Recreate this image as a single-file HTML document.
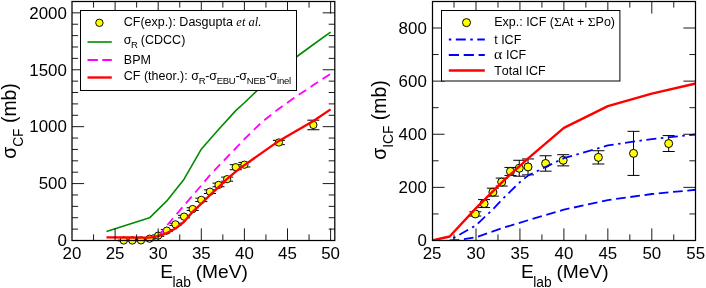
<!DOCTYPE html>
<html><head><meta charset="utf-8"><title>plot</title>
<style>
html,body{margin:0;padding:0;background:#fff;}
body{width:706px;height:288px;position:relative;overflow:hidden;font-family:"Liberation Sans",sans-serif;color:#000;}
.t{position:absolute;white-space:nowrap;line-height:1;font-kerning:none;font-family:"Liberation Sans",sans-serif;}
.sub{position:relative;}
.sy{font-family:"Liberation Serif",serif;font-size:13.4px;line-height:0;}
#txt{position:absolute;left:0;top:0;width:706px;height:288px;will-change:transform;}
.rot{transform-origin:0 0;transform:rotate(-90deg) scale(1,1.04) translate(-50%,-84.65%);}
</style></head><body>
<svg width="706" height="288" viewBox="0 0 706 288" style="position:absolute;left:0;top:0">
<rect width="706" height="288" fill="#fff"/>
<defs><clipPath id="cl"><rect x="72.00" y="1.50" width="262.80" height="239.00"/></clipPath>
<clipPath id="cr"><rect x="432.50" y="1.50" width="263.00" height="239.00"/></clipPath></defs>
<g>
<path d="M123.72 240.16 V240.84 M117.72 240.16 h12.00 M117.72 240.84 h12.00 M132.34 240.16 V240.84 M126.34 240.16 h12.00 M126.34 240.84 h12.00 M140.96 240.04 V240.73 M134.96 240.04 h12.00 M134.96 240.73 h12.00 M149.58 238.22 V239.13 M143.58 238.22 h12.00 M143.58 239.13 h12.00 M158.20 234.92 V236.29 M152.20 234.92 h12.00 M152.20 236.29 h12.00 M166.82 229.57 V231.62 M160.82 229.57 h12.00 M160.82 231.62 h12.00 M175.44 223.20 V225.47 M169.44 223.20 h12.00 M169.44 225.47 h12.00 M184.06 215.34 V217.85 M178.06 215.34 h12.00 M178.06 217.85 h12.00 M192.68 207.72 V210.45 M186.68 207.72 h12.00 M186.68 210.45 h12.00 M201.30 198.16 V201.57 M195.30 198.16 h12.00 M195.30 201.57 h12.00 M209.92 189.85 V193.49 M203.92 189.85 h12.00 M203.92 193.49 h12.00 M218.54 183.13 V186.77 M212.54 183.13 h12.00 M212.54 186.77 h12.00 M227.16 177.10 V181.19 M221.16 177.10 h12.00 M221.16 181.19 h12.00 M235.78 164.69 V169.70 M229.78 164.69 h12.00 M229.78 169.70 h12.00 M244.40 162.41 V166.97 M238.40 162.41 h12.00 M238.40 166.97 h12.00 M278.88 140.33 V144.66 M272.88 140.33 h12.00 M272.88 144.66 h12.00 M313.36 120.18 V129.74 M307.36 120.18 h12.00 M307.36 129.74 h12.00" stroke="#000" stroke-width="1" fill="none"/>
<circle cx="123.72" cy="240.50" r="3.65" fill="#ffff00" stroke="#000" stroke-width="0.95"/>
<circle cx="132.34" cy="240.50" r="3.65" fill="#ffff00" stroke="#000" stroke-width="0.95"/>
<circle cx="140.96" cy="240.39" r="3.65" fill="#ffff00" stroke="#000" stroke-width="0.95"/>
<circle cx="149.58" cy="238.68" r="3.65" fill="#ffff00" stroke="#000" stroke-width="0.95"/>
<circle cx="158.20" cy="235.61" r="3.65" fill="#ffff00" stroke="#000" stroke-width="0.95"/>
<circle cx="166.82" cy="230.60" r="3.65" fill="#ffff00" stroke="#000" stroke-width="0.95"/>
<circle cx="175.44" cy="224.34" r="3.65" fill="#ffff00" stroke="#000" stroke-width="0.95"/>
<circle cx="184.06" cy="216.60" r="3.65" fill="#ffff00" stroke="#000" stroke-width="0.95"/>
<circle cx="192.68" cy="209.08" r="3.65" fill="#ffff00" stroke="#000" stroke-width="0.95"/>
<circle cx="201.30" cy="199.86" r="3.65" fill="#ffff00" stroke="#000" stroke-width="0.95"/>
<circle cx="209.92" cy="191.67" r="3.65" fill="#ffff00" stroke="#000" stroke-width="0.95"/>
<circle cx="218.54" cy="184.95" r="3.65" fill="#ffff00" stroke="#000" stroke-width="0.95"/>
<circle cx="227.16" cy="179.15" r="3.65" fill="#ffff00" stroke="#000" stroke-width="0.95"/>
<circle cx="235.78" cy="167.19" r="3.65" fill="#ffff00" stroke="#000" stroke-width="0.95"/>
<circle cx="244.40" cy="164.69" r="3.65" fill="#ffff00" stroke="#000" stroke-width="0.95"/>
<circle cx="278.88" cy="142.49" r="3.65" fill="#ffff00" stroke="#000" stroke-width="0.95"/>
<circle cx="313.36" cy="124.96" r="3.65" fill="#ffff00" stroke="#000" stroke-width="0.95"/>
</g>
<g clip-path="url(#cl)" fill="none" stroke-linejoin="round">
<path d="M106.48 231.51 L149.58 217.85 L166.82 200.89 L184.06 179.15 L201.30 149.21 L218.54 129.52 L235.78 110.62 L244.40 102.77 L278.88 69.75 L313.36 44.48 L330.60 32.19" stroke="#008b00" stroke-width="1.6"/>
<path d="M155.61 240.50 L158.20 236.97 L166.82 225.59 L175.44 215.57 L184.06 205.44 L192.68 195.42 L201.30 185.41 L209.92 175.16 L227.16 157.06 L244.40 139.19 L261.64 122.34 L278.88 108.68 L296.12 96.51 L313.36 85.12 L330.60 73.74" stroke="#ff00ff" stroke-width="1.8" stroke-dasharray="8.9 5.386" stroke-dashoffset="-5.14"/>
<path d="M106.48 237.43 L132.34 237.54 L145.27 237.65 L149.58 237.54 L158.20 236.17 L166.82 232.99 L175.44 228.55 L184.06 221.72 L192.68 211.81 L201.30 203.73 L209.92 195.20 L218.54 187.23 L227.16 178.92 L235.78 171.63 L244.40 165.14 L278.88 140.90 L313.36 120.98 L330.60 109.37" stroke="#ff0000" stroke-width="2.35"/>
</g>
<path d="M115.10 240.50 v-12.10 M115.10 1.50 v12.10 M158.20 240.50 v-12.10 M158.20 1.50 v12.10 M201.30 240.50 v-12.10 M201.30 1.50 v12.10 M244.40 240.50 v-12.10 M244.40 1.50 v12.10 M287.50 240.50 v-12.10 M287.50 1.50 v12.10 M330.60 240.50 v-12.10 M330.60 1.50 v12.10 M93.55 240.50 v-6.10 M93.55 1.50 v6.10 M136.65 240.50 v-6.10 M136.65 1.50 v6.10 M179.75 240.50 v-6.10 M179.75 1.50 v6.10 M222.85 240.50 v-6.10 M222.85 1.50 v6.10 M265.95 240.50 v-6.10 M265.95 1.50 v6.10 M309.05 240.50 v-6.10 M309.05 1.50 v6.10 M72.00 183.59 h12.10 M334.80 183.59 h-12.10 M72.00 126.67 h12.10 M334.80 126.67 h-12.10 M72.00 69.75 h12.10 M334.80 69.75 h-12.10 M72.00 12.84 h12.10 M334.80 12.84 h-12.10 M72.00 229.12 h6.10 M334.80 229.12 h-6.10 M72.00 217.73 h6.10 M334.80 217.73 h-6.10 M72.00 206.35 h6.10 M334.80 206.35 h-6.10 M72.00 194.97 h6.10 M334.80 194.97 h-6.10 M72.00 172.20 h6.10 M334.80 172.20 h-6.10 M72.00 160.82 h6.10 M334.80 160.82 h-6.10 M72.00 149.44 h6.10 M334.80 149.44 h-6.10 M72.00 138.05 h6.10 M334.80 138.05 h-6.10 M72.00 115.29 h6.10 M334.80 115.29 h-6.10 M72.00 103.90 h6.10 M334.80 103.90 h-6.10 M72.00 92.52 h6.10 M334.80 92.52 h-6.10 M72.00 81.14 h6.10 M334.80 81.14 h-6.10 M72.00 58.37 h6.10 M334.80 58.37 h-6.10 M72.00 46.99 h6.10 M334.80 46.99 h-6.10 M72.00 35.61 h6.10 M334.80 35.61 h-6.10 M72.00 24.22 h6.10 M334.80 24.22 h-6.10" stroke="#000" stroke-width="0.9" fill="none"/>
<rect x="72.00" y="1.50" width="262.80" height="239.00" fill="none" stroke="#000" stroke-width="1.25"/>
<rect x="80.5" y="10.5" width="216" height="80" fill="#fff" stroke="#000" stroke-width="1"/>
<circle cx="99.4" cy="22.8" r="3.7" fill="#ffff00" stroke="#000" stroke-width="0.95"/>
<path d="M87.5 42 H111.8" stroke="#008b00" stroke-width="1.6"/>
<path d="M87.5 60 H111.8" stroke="#ff00ff" stroke-width="1.9" stroke-dasharray="10.4 4.4"/>
<path d="M87.5 77.5 H111.8" stroke="#ff0000" stroke-width="2.35"/>
<g>
<path d="M475.30 211.81 V216.06 M469.30 211.81 h12.00 M469.30 216.06 h12.00 M484.09 199.59 V207.56 M478.09 199.59 h12.00 M478.09 207.56 h12.00 M492.88 188.17 V196.14 M486.88 188.17 h12.00 M486.88 196.14 h12.00 M501.67 178.08 V186.05 M495.67 178.08 h12.00 M495.67 186.05 h12.00 M510.46 167.45 V175.42 M504.46 167.45 h12.00 M504.46 175.42 h12.00 M519.25 160.28 V176.22 M513.25 160.28 h12.00 M513.25 176.22 h12.00 M528.04 158.95 V174.89 M522.04 158.95 h12.00 M522.04 174.89 h12.00 M545.62 155.76 V171.17 M539.62 155.76 h12.00 M539.62 171.17 h12.00 M563.20 154.70 V165.86 M557.20 154.70 h12.00 M557.20 165.86 h12.00 M598.36 150.72 V164.00 M592.36 150.72 h12.00 M592.36 164.00 h12.00 M633.52 131.33 V175.42 M627.52 131.33 h12.00 M627.52 175.42 h12.00 M668.68 135.58 V151.51 M662.68 135.58 h12.00 M662.68 151.51 h12.00" stroke="#000" stroke-width="1" fill="none"/>
<circle cx="475.30" cy="213.94" r="4.00" fill="#ffff00" stroke="#000" stroke-width="1.00"/>
<circle cx="484.09" cy="203.58" r="4.00" fill="#ffff00" stroke="#000" stroke-width="1.00"/>
<circle cx="492.88" cy="192.16" r="4.00" fill="#ffff00" stroke="#000" stroke-width="1.00"/>
<circle cx="501.67" cy="182.06" r="4.00" fill="#ffff00" stroke="#000" stroke-width="1.00"/>
<circle cx="510.46" cy="171.44" r="4.00" fill="#ffff00" stroke="#000" stroke-width="1.00"/>
<circle cx="519.25" cy="168.25" r="4.00" fill="#ffff00" stroke="#000" stroke-width="1.00"/>
<circle cx="528.04" cy="166.92" r="4.00" fill="#ffff00" stroke="#000" stroke-width="1.00"/>
<circle cx="545.62" cy="163.47" r="4.00" fill="#ffff00" stroke="#000" stroke-width="1.00"/>
<circle cx="563.20" cy="160.28" r="4.00" fill="#ffff00" stroke="#000" stroke-width="1.00"/>
<circle cx="598.36" cy="157.36" r="4.00" fill="#ffff00" stroke="#000" stroke-width="1.00"/>
<circle cx="633.52" cy="153.37" r="4.00" fill="#ffff00" stroke="#000" stroke-width="1.00"/>
<circle cx="668.68" cy="143.55" r="4.00" fill="#ffff00" stroke="#000" stroke-width="1.00"/>
</g>
<g clip-path="url(#cr)" fill="none" stroke-linejoin="round">
<path d="M449.63 240.23 L476.00 225.36 L493.58 208.62 L502.37 199.33 L511.16 190.56 L519.95 182.06 L528.74 175.16 L546.32 166.65 L563.90 158.15 L607.85 145.40 L651.80 139.03 L695.75 134.51" stroke="#0000ff" stroke-width="1.8" stroke-dasharray="2.5 4.5 10.07 4.5" stroke-dashoffset="-4.2"/>
<path d="M449.63 240.50 L458.42 239.97 L476.00 237.31 L502.37 228.02 L528.74 220.05 L563.90 209.69 L607.85 200.12 L651.80 194.01 L695.75 189.76" stroke="#0000ff" stroke-width="1.8" stroke-dasharray="9.7 4.64"/>
<path d="M432.05 240.50 L449.63 236.52 L476.00 208.09 L502.37 181.80 L528.74 157.89 L563.90 127.87 L607.85 106.09 L651.80 93.61 L695.75 83.51" stroke="#ff0000" stroke-width="2.35"/>
</g>
<path d="M476.00 240.50 v-12.10 M476.00 1.50 v12.10 M519.95 240.50 v-12.10 M519.95 1.50 v12.10 M563.90 240.50 v-12.10 M563.90 1.50 v12.10 M607.85 240.50 v-12.10 M607.85 1.50 v12.10 M651.80 240.50 v-12.10 M651.80 1.50 v12.10 M454.03 240.50 v-6.10 M454.03 1.50 v6.10 M497.98 240.50 v-6.10 M497.98 1.50 v6.10 M541.92 240.50 v-6.10 M541.92 1.50 v6.10 M585.88 240.50 v-6.10 M585.88 1.50 v6.10 M629.83 240.50 v-6.10 M629.83 1.50 v6.10 M673.77 240.50 v-6.10 M673.77 1.50 v6.10 M432.50 187.37 h12.10 M695.50 187.37 h-12.10 M432.50 134.25 h12.10 M695.50 134.25 h-12.10 M432.50 81.12 h12.10 M695.50 81.12 h-12.10 M432.50 28.00 h12.10 M695.50 28.00 h-12.10 M432.50 213.94 h6.10 M695.50 213.94 h-6.10 M432.50 160.81 h6.10 M695.50 160.81 h-6.10 M432.50 107.69 h6.10 M695.50 107.69 h-6.10 M432.50 54.56 h6.10 M695.50 54.56 h-6.10" stroke="#000" stroke-width="0.9" fill="none"/>
<rect x="432.50" y="1.50" width="263.00" height="239.00" fill="none" stroke="#000" stroke-width="1.25"/>
<rect x="441.5" y="10.5" width="178.4" height="70.5" fill="#fff" stroke="#000" stroke-width="1"/>
<circle cx="466.5" cy="22.6" r="4.0" fill="#ffff00" stroke="#000" stroke-width="1"/>
<path d="M448.8 39.5 H484.8" stroke="#0000ff" stroke-width="1.8" stroke-dasharray="2.5 4.5 10 4.5"/>
<path d="M448.8 55 H484.8" stroke="#0000ff" stroke-width="1.8" stroke-dasharray="10.2 4.7"/>
<path d="M448.8 70.5 H484.8" stroke="#ff0000" stroke-width="2.35"/>
</svg>
<div id="txt">
<div class="t" style="left:72.00px;top:245.99px;width:60px;margin-left:-30px;text-align:center;font-size:16.9px">20</div>
<div class="t" style="left:115.10px;top:245.99px;width:60px;margin-left:-30px;text-align:center;font-size:16.9px">25</div>
<div class="t" style="left:158.20px;top:245.99px;width:60px;margin-left:-30px;text-align:center;font-size:16.9px">30</div>
<div class="t" style="left:201.30px;top:245.99px;width:60px;margin-left:-30px;text-align:center;font-size:16.9px">35</div>
<div class="t" style="left:244.40px;top:245.99px;width:60px;margin-left:-30px;text-align:center;font-size:16.9px">40</div>
<div class="t" style="left:287.50px;top:245.99px;width:60px;margin-left:-30px;text-align:center;font-size:16.9px">45</div>
<div class="t" style="left:330.60px;top:245.99px;width:60px;margin-left:-30px;text-align:center;font-size:16.9px">50</div>
<div class="t" style="left:6.90px;top:233.29px;width:60px;text-align:right;font-size:16.9px">0</div>
<div class="t" style="left:6.90px;top:176.38px;width:60px;text-align:right;font-size:16.9px">500</div>
<div class="t" style="left:6.90px;top:119.46px;width:60px;text-align:right;font-size:16.9px">1000</div>
<div class="t" style="left:6.90px;top:62.55px;width:60px;text-align:right;font-size:16.9px">1500</div>
<div class="t" style="left:6.90px;top:5.63px;width:60px;text-align:right;font-size:16.9px">2000</div>
<div class="t" style="left:432.05px;top:245.99px;width:60px;margin-left:-30px;text-align:center;font-size:16.9px">25</div>
<div class="t" style="left:476.00px;top:245.99px;width:60px;margin-left:-30px;text-align:center;font-size:16.9px">30</div>
<div class="t" style="left:519.95px;top:245.99px;width:60px;margin-left:-30px;text-align:center;font-size:16.9px">35</div>
<div class="t" style="left:563.90px;top:245.99px;width:60px;margin-left:-30px;text-align:center;font-size:16.9px">40</div>
<div class="t" style="left:607.85px;top:245.99px;width:60px;margin-left:-30px;text-align:center;font-size:16.9px">45</div>
<div class="t" style="left:651.80px;top:245.99px;width:60px;margin-left:-30px;text-align:center;font-size:16.9px">50</div>
<div class="t" style="left:695.75px;top:245.99px;width:60px;margin-left:-30px;text-align:center;font-size:16.9px">55</div>
<div class="t" style="left:366.80px;top:233.29px;width:60px;text-align:right;font-size:16.9px">0</div>
<div class="t" style="left:366.80px;top:180.17px;width:60px;text-align:right;font-size:16.9px">200</div>
<div class="t" style="left:366.80px;top:127.04px;width:60px;text-align:right;font-size:16.9px">400</div>
<div class="t" style="left:366.80px;top:73.92px;width:60px;text-align:right;font-size:16.9px">600</div>
<div class="t" style="left:366.80px;top:20.79px;width:60px;text-align:right;font-size:16.9px">800</div>
<div class="t" style="left:160.3px;top:262.45px;font-size:19.2px">E<span class="sub" style="font-size:13.8px;top:8.3px;margin:0 -0.6px">lab</span> (MeV)</div>
<div class="t" style="left:521.0px;top:262.45px;font-size:19.2px">E<span class="sub" style="font-size:13.8px;top:8.3px;margin:0 -0.6px">lab</span> (MeV)</div>
<div class="t rot" style="left:16.40px;top:120.60px;font-size:19.4px">&sigma;<span class="sub" style="font-size:13.8px;top:7.4px">CF</span> (mb)</div>
<div class="t rot" style="left:386.30px;top:120.40px;font-size:19.4px">&sigma;<span class="sub" style="font-size:13.8px;top:7.4px">ICF</span> (mb)</div>
<div class="t" style="left:123.80px;top:16.32px;font-size:12.5px">CF(exp.): Dasgupta <span style="font-family:'Liberation Serif',serif;font-style:italic">et al.</span></div>
<div class="t" style="left:123.80px;top:33.92px;font-size:12.5px"><span style="letter-spacing:-0.5px">&sigma;<span class="sub" style="font-size:9.5px;top:4.2px">R</span></span> (CDCC)</div>
<div class="t" style="left:123.80px;top:54.22px;font-size:12.5px">BPM</div>
<div class="t" style="left:123.80px;top:70.22px;font-size:12.5px">CF (theor.): <span style="letter-spacing:-0.25px">&sigma;<span class="sub" style="font-size:9.5px;top:4.2px">R</span>-&sigma;<span class="sub" style="font-size:9.5px;top:4.2px">EBU</span>-&sigma;<span class="sub" style="font-size:9.5px;top:4.2px">NEB</span>-&sigma;<span class="sub" style="font-size:9.5px;top:4.2px">inel</span></span></div>
<div class="t" style="left:494.20px;top:16.12px;font-size:12.5px">Exp.: ICF (<span class="sy">&Sigma;</span>At + <span class="sy">&Sigma;</span>Po)</div>
<div class="t" style="left:494.20px;top:33.82px;font-size:12.5px">t ICF</div>
<div class="t" style="left:494.20px;top:49.12px;font-size:12.5px"><span style="font-family:'Liberation Serif',serif;font-size:14.5px;line-height:0;display:inline-block;transform:scaleX(1.08);transform-origin:0 50%;margin-right:0.7px">&alpha;</span> ICF</div>
<div class="t" style="left:494.20px;top:64.72px;font-size:12.5px">Total ICF</div>
</div>
</body></html>
